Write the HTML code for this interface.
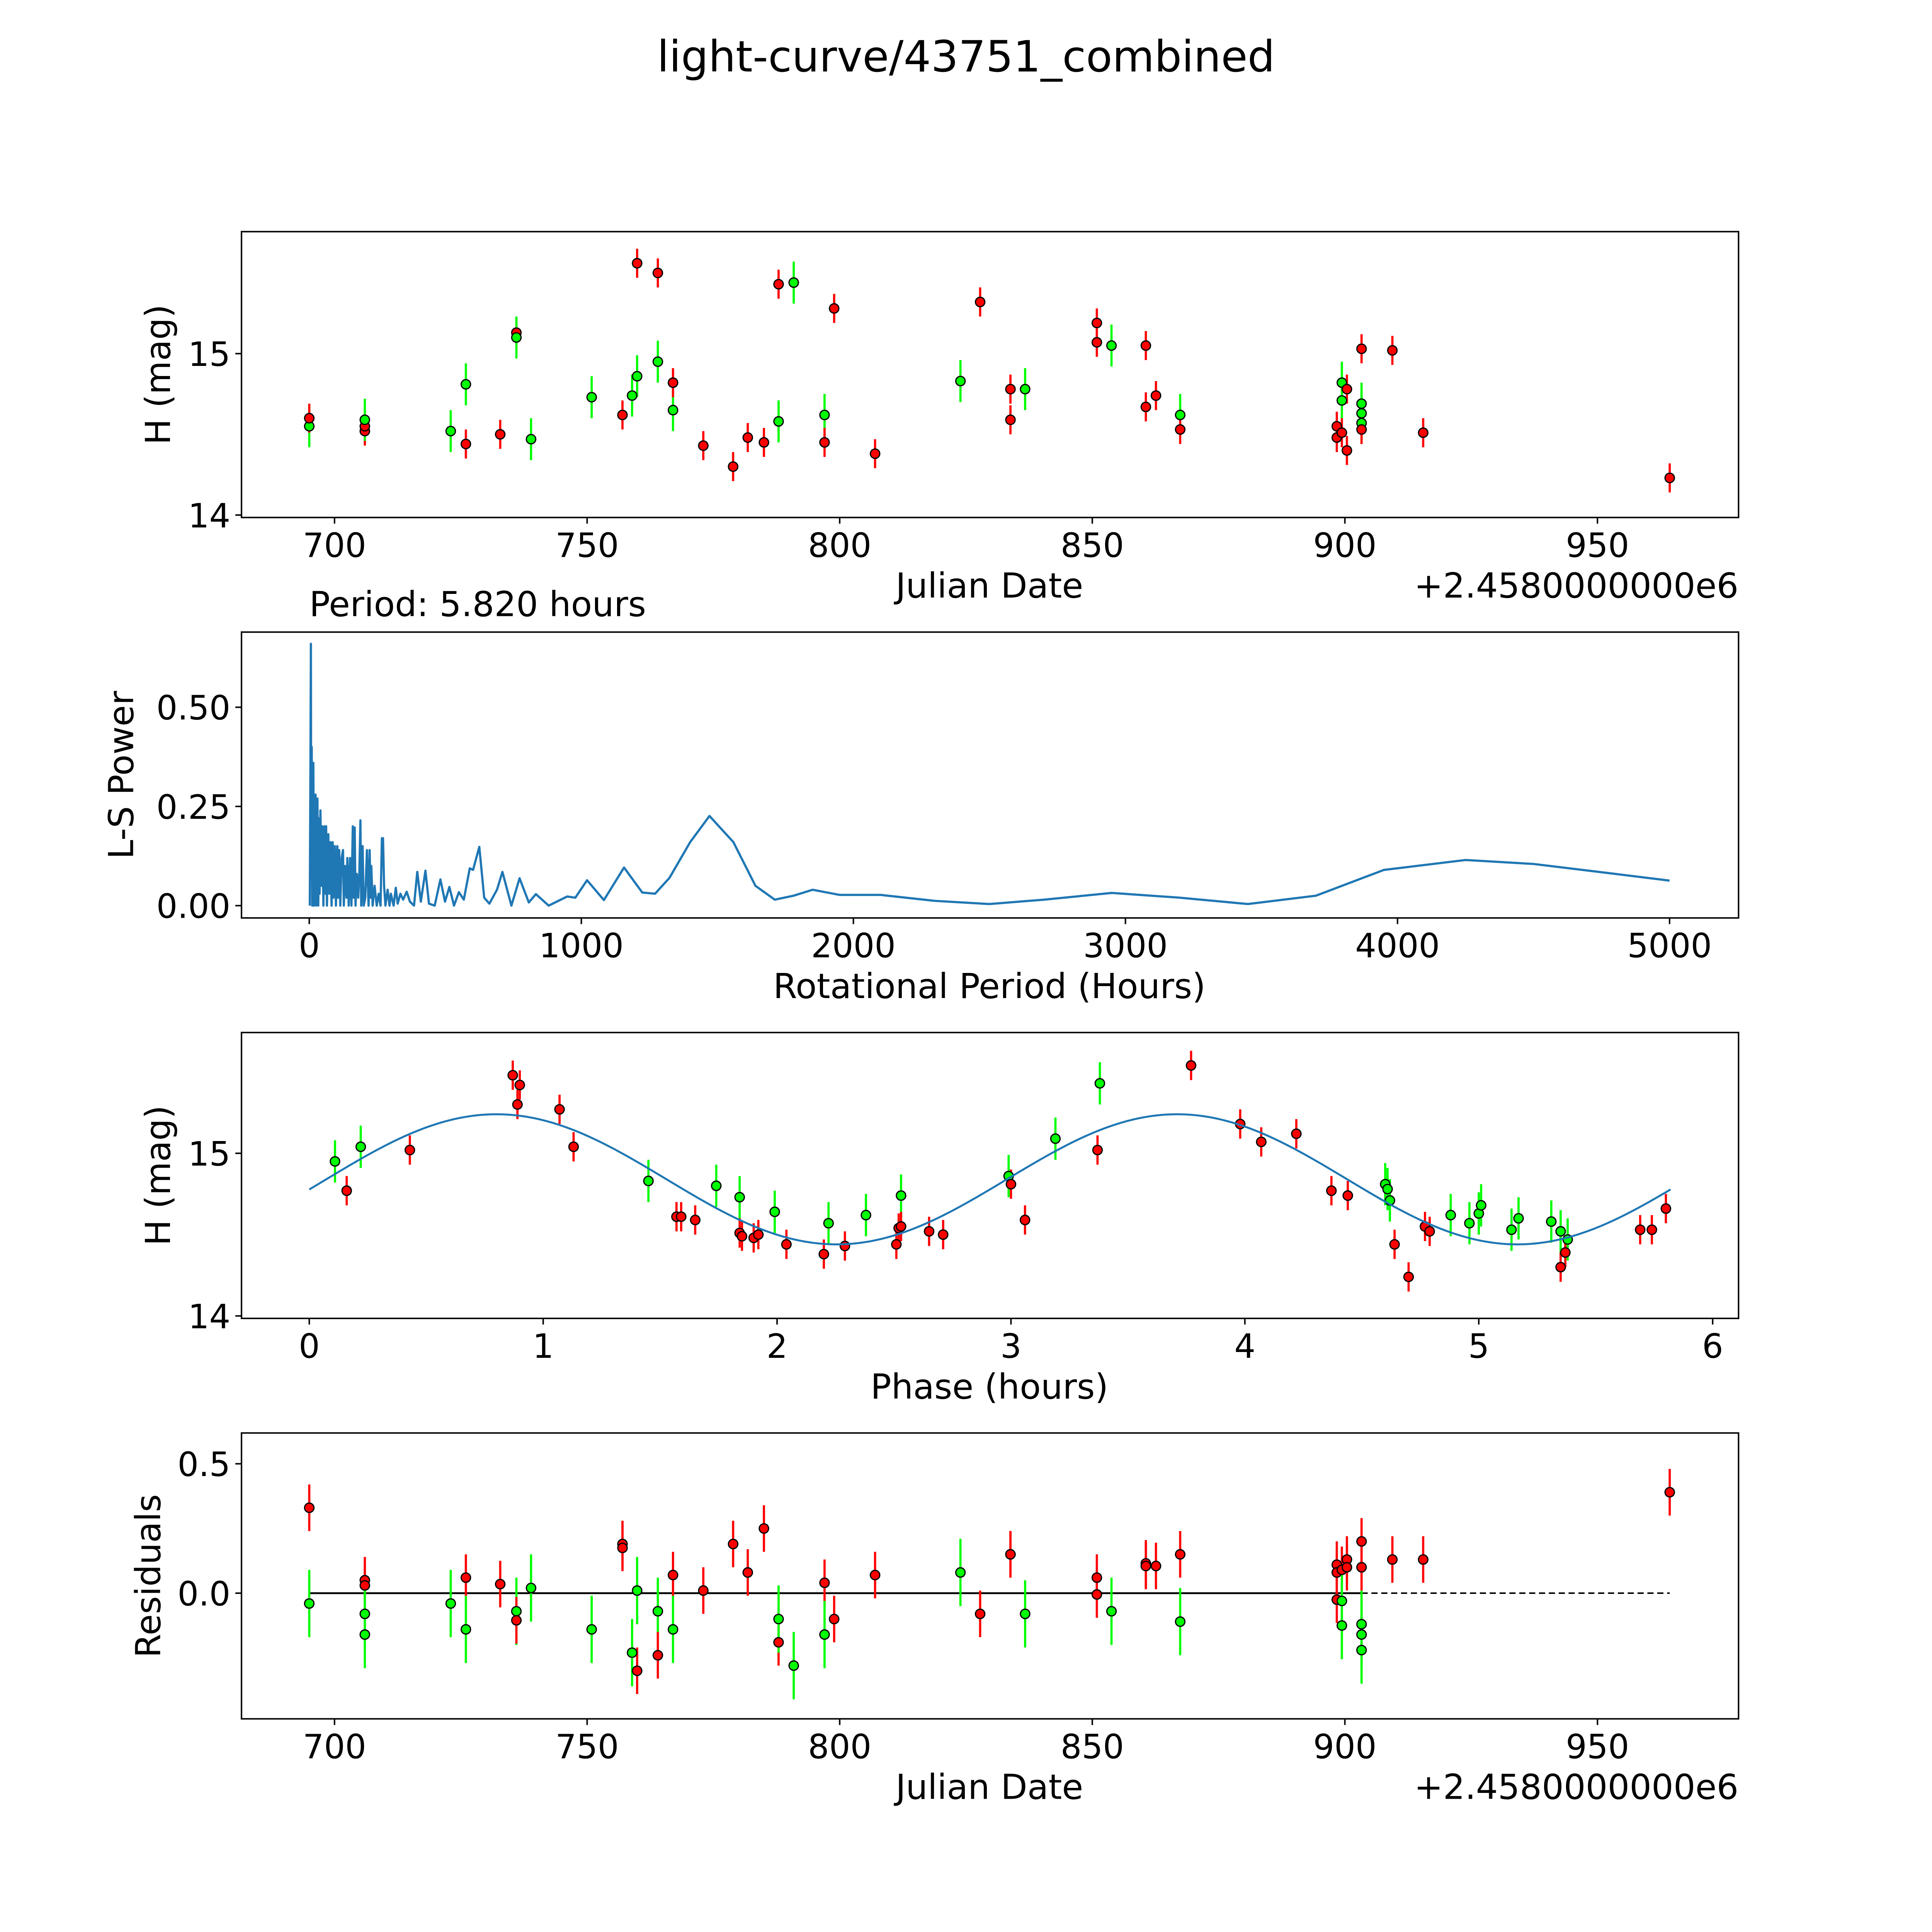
<!DOCTYPE html>
<html><head><meta charset="utf-8"><style>
html,body{margin:0;padding:0;background:#fff;overflow:hidden;width:100%;height:100%}
svg{display:block;width:100vw;height:100vh}
text{font-family:"DejaVu Sans","Liberation Sans",sans-serif;fill:#000}
</style></head><body>
<svg id="fig" xmlns="http://www.w3.org/2000/svg" viewBox="0 0 1568 1568" preserveAspectRatio="none">
<rect width="1568" height="1568" fill="#fff"/>
<text x="784" y="58" font-size="35" text-anchor="middle">light-curve/43751_combined</text>
</svg>
<script>
// ---- Panel 1: light curve (JD offset from 2458000, mag) ----
const lcJD=[695,695,706,706,706,723,726,726,732.8,736,736,738.9,750.9,757,758.9,759.9,759.9,764,764,767,767,773,778.9,781.8,785,787.9,787.9,790.9,797,797,798.9,807,823.9,827.8,833.8,833.8,836.7,850.9,850.9,853.8,860.6,860.6,862.6,867.4,867.4,899.4,899.4,898.4,898.4,899.4,900.4,900.4,903.3,903.3,903.3,903.3,903.3,909.4,915.5,964.3];
const lcMag=[14.55,14.6,14.52,14.55,14.59,14.52,14.81,14.44,14.5,15.13,15.1,14.47,14.73,14.62,14.74,14.86,15.56,14.95,15.5,14.65,14.82,14.43,14.3,14.48,14.45,15.43,14.58,15.44,14.62,14.45,15.28,14.38,14.83,15.32,14.78,14.59,14.78,15.19,15.07,15.05,15.05,14.67,14.74,14.62,14.53,14.82,14.71,14.55,14.48,14.51,14.78,14.4,14.69,14.63,14.57,14.53,15.03,15.02,14.51,14.23];
const lcColor=['g','r','r','r','g','g','g','r','r','r','g','g','g','r','g','g','r','g','r','g','r','r','r','r','r','r','g','g','g','r','r','r','g','r','r','r','g','r','r','g','r','r','r','g','r','g','g','r','r','r','r','r','g','g','g','r','r','r','r','r'];
// ---- Residuals ----
const resJD=[695,695,706,706,706,706,723,726,726,732.8,736,736,738.9,750.9,757,757,758.9,759.9,759.9,764,764,767,767,773,778.9,781.8,785,787.9,787.9,790.9,797,797,798.9,807,823.9,827.8,833.8,833.8,836.7,850.9,850.9,853.8,860.6,860.6,862.6,867.4,867.4,898.4,898.4,898.4,899.4,899.4,899.4,900.4,900.4,903.3,903.3,903.3,903.3,903.3,909.4,915.5,964.3];
const resVal=[0.33,-0.04,0.05,0.03,-0.08,-0.16,-0.04,0.06,-0.14,0.035,-0.07,-0.105,0.02,-0.14,0.19,0.175,-0.23,0.01,-0.3,-0.07,-0.24,0.07,-0.14,0.01,0.19,0.08,0.25,-0.19,-0.1,-0.28,0.04,-0.16,-0.1,0.07,0.08,-0.08,0.15,0.15,-0.08,0.06,-0.005,-0.07,0.115,0.105,0.105,0.15,-0.11,0.11,0.08,-0.025,0.09,-0.03,-0.125,0.13,0.1,0.2,0.1,-0.12,-0.16,-0.22,0.13,0.13,0.39];
const resColor=['r','g','r','r','g','g','g','r','g','r','g','r','g','g','r','r','g','g','r','g','r','r','g','r','r','r','r','r','g','g','r','g','r','r','g','r','r','r','g','r','r','g','r','r','r','r','g','r','r','r','r','g','g','r','r','r','r','g','g','g','r','r','r'];
// ---- Phase folded ----
const phT=[0.11,0.16,0.22,0.43,0.87,0.9,0.89,1.07,1.13,1.45,1.57,1.59,1.65,1.74,1.84,1.84,1.85,1.9,1.92,1.99,2.04,2.2,2.22,2.29,2.38,2.51,2.52,2.53,2.53,2.65,2.71,2.99,3.0,3.06,3.19,3.37,3.38,3.77,3.98,4.07,4.22,4.37,4.44,4.6,4.61,4.64,4.62,4.7,4.77,4.79,4.88,4.96,5.0,5.01,5.14,5.17,5.31,5.35,5.35,5.37,5.38,5.69,5.74,5.8];
const phMag=[14.95,14.77,15.04,15.02,15.48,15.42,15.3,15.27,15.04,14.83,14.61,14.61,14.59,14.8,14.73,14.51,14.49,14.48,14.5,14.64,14.44,14.38,14.57,14.43,14.62,14.44,14.54,14.74,14.55,14.52,14.5,14.86,14.81,14.59,15.09,15.02,15.43,15.54,15.18,15.07,15.12,14.77,14.74,14.81,14.78,14.44,14.71,14.24,14.55,14.52,14.62,14.57,14.63,14.68,14.53,14.6,14.58,14.52,14.3,14.39,14.47,14.53,14.53,14.66];
const phColor=['g','r','g','r','r','r','r','r','r','g','r','r','r','g','g','r','r','r','r','g','r','r','g','r','g','r','r','g','r','r','r','g','r','r','g','r','g','r','r','r','r','r','r','g','g','r','g','r','r','r','g','g','g','g','g','g','g','g','r','r','g','r','r','r'];
const fitMean=14.84, fitAmp=0.40, fitPeak=0.8, fitPer=2.91, foldPeriod=5.82;
// ---- Periodogram ----
const lsPeriod=[2,4,6,7,9,11,13,15,17,20,21,23,25,28,30,33,36,38,41,45,47,52,55,59,62,65,70,74,78,82,86,89,94,98,103,106,110,114,119,124,127,132,137,140,145,150,155,160,163,167,170,175,180,184,188,191,196,200,206,212,218,222,225,228,233,240,248,255,262,267,271,275,280,288,295,300,310,318,325,335,345,358,370,385,397,410,427,440,461,482,499,515,532,550,568,590,602,625,643,662,690,710,743,773,807,833,880,948,978,1021,1083,1157,1224,1271,1324,1400,1471,1559,1640,1711,1780,1850,1950,2100,2300,2500,2700,2950,3200,3450,3700,3950,4250,4500,4800,5000];
const lsPower=[0,0.3,0.66,0.1,0.4,0,0.2,0.36,0,0.27,0.05,0.28,0,0.2,0.27,0,0.22,0.03,0.24,0.05,0.2,0,0.2,0.03,0.2,0,0.18,0.03,0.16,0,0.16,0.02,0.15,0,0.15,0.02,0.14,0,0.12,0.14,0,0.1,0.02,0.12,0,0.12,0,0.2,0.02,0.197,0,0.08,0.02,0.08,0.215,0,0.15,0,0.02,0.14,0,0.14,0.02,0.1,0,0.05,0,0.03,0,0.17,0.17,0.05,0,0.04,0,0.03,0,0.045,0.005,0.03,0.015,0.035,0.01,0,0.085,0.01,0.088,0.005,0,0.066,0.01,0.047,0,0.034,0.015,0.094,0.09,0.148,0.02,0.005,0.04,0.085,0,0.069,0.008,0.029,0,0.023,0.02,0.064,0.014,0.096,0.033,0.03,0.07,0.16,0.226,0.16,0.05,0.015,0.025,0.04,0.027,0.027,0.012,0.004,0.015,0.032,0.02,0.004,0.025,0.09,0.115,0.105,0.08,0.063];
// ---- axis ticks ----
const jdTicks=[700,750,800,850,900,950];
const magTicks=[14,15];
const lsXTicks=[0,1000,2000,3000,4000,5000];
const lsYTicks=[0,0.25,0.5];
const lsYLabels=['0.00','0.25','0.50'];
const phTicks=[0,1,2,3,4,5,6];
const resTicks=[0,0.5];
const resLabels=['0.0','0.5'];

const NS='http://www.w3.org/2000/svg';
const svg=document.getElementById('fig');
function mk(tag,attrs,parent){const e=document.createElementNS(NS,tag);for(const k in attrs)e.setAttribute(k,attrs[k]);(parent||svg).appendChild(e);return e;}
function lin(d0,d1,r0,r1){return v=>r0+(v-d0)*(r1-r0)/(d1-d0);}
const L=196,R=1411,TOPS=[188,513,838,1163],H=232;
const COL={r:'#ff0000',g:'#00ff00'};
const ERR={r:0.09,g:0.13};

function axesFrame(i,name){
  const g=mk('g',{});
  
  
  return g;
}
function drawFrame(g,top){
  const r=mk('rect',{x:L,y:top,width:R-L,height:H,fill:'none',stroke:'#000','stroke-width':1.2},g);
  
  
}
function xTicks(g,top,sx,ticks,labels){
  ticks.forEach((t,i)=>{const x=sx(t);
    mk('line',{x1:x,x2:x,y1:top+H,y2:top+H+5,stroke:'#000','stroke-width':1.2},g);
    const tx=mk('text',{x:x,y:top+H+32,'font-size':27,'text-anchor':'middle'},g);
    tx.textContent=labels?labels[i]:String(t);
    
    
  });
}
function yTicks(g,sy,ticks,labels){
  ticks.forEach((t,i)=>{const y=sy(t);
    mk('line',{x1:L-5,x2:L,y1:y,y2:y,stroke:'#000','stroke-width':1.2},g);
    const tx=mk('text',{x:L-9,y:y+10,'font-size':27,'text-anchor':'end'},g);
    tx.textContent=labels?labels[i]:String(t);
    
    
  });
}
function label(g,txt,x,y,rot,name,anchor){
  const t=mk('text',{x:x,y:y,'font-size':28,'text-anchor':anchor||'middle'},g);
  if(rot)t.setAttribute('transform','rotate(-90 '+x+' '+y+')');
  t.textContent=txt;
  
  
}
function errPoints(g,xs,ys,cs,sx,sy,name){
  xs.forEach((xv,i)=>{const c=cs[i],x=sx(xv),e=ERR[c];
    mk('line',{x1:x,x2:x,y1:sy(ys[i]-e),y2:sy(ys[i]+e),stroke:COL[c],'stroke-width':1.8},g);
  });
  xs.forEach((xv,i)=>{const c=cs[i];
    const p=mk('circle',{cx:sx(xv),cy:sy(ys[i]),r:3.8,fill:COL[c],stroke:'#000','stroke-width':1},g);
    
    
  });
}

// Panel 1
{const top=TOPS[0];const g=axesFrame(0,'light-curve-axes');
 const sx=lin(700,950,271.5,1296.5), sy=lin(14,15,418,287);
 errPoints(g,lcJD,lcMag,lcColor,sx,sy,'magnitude-point');
 drawFrame(g,top);xTicks(g,top,sx,jdTicks);yTicks(g,sy,magTicks);
 label(g,'Julian Date',803,485,false,'x-axis-title');
 label(g,'+2.4580000000e6',1411,485,false,'x-offset-text','end');
 label(g,'H (mag)',138,top+H/2,true,'y-axis-title');}
// Panel 2
{const top=TOPS[1];const g=axesFrame(1,'periodogram-axes');
 const sx=lin(0,5000,251,1355), sy=lin(0,0.5,735,574);
 let d='';lsPeriod.forEach((p,i)=>{d+=(i?'L':'M')+sx(p).toFixed(2)+' '+sy(lsPower[i]).toFixed(2);});
 const pl=mk('path',{d:d,fill:'none',stroke:'#1f77b4','stroke-width':1.8,'stroke-linejoin':'round'},g);
 
 
 drawFrame(g,top);xTicks(g,top,sx,lsXTicks);yTicks(g,sy,lsYTicks,lsYLabels);
 label(g,'Period: 5.820 hours',251,500,false,'period-title','start');
 label(g,'Rotational Period (Hours)',803,810,false,'x-axis-title');
 label(g,'L-S Power',108,top+H/2,true,'y-axis-title');}
// Panel 3
{const top=TOPS[2];const g=axesFrame(2,'phase-axes');
 const sx=lin(0,6,251,1390), sy=lin(14,15,1068,936);
 errPoints(g,phT,phMag,phColor,sx,sy,'phase-point');
 let d='';for(let k=0;k<=300;k++){const t=foldPeriod*k/300;const m=fitMean+fitAmp*Math.cos(2*Math.PI*(t-fitPeak)/fitPer);d+=(k?'L':'M')+sx(t).toFixed(2)+' '+sy(m).toFixed(2);}
 const fl=mk('path',{d:d,fill:'none',stroke:'#1f77b4','stroke-width':1.6},g);
 
 
 drawFrame(g,top);xTicks(g,top,sx,phTicks);yTicks(g,sy,magTicks);
 label(g,'Phase (hours)',803,1135,false,'x-axis-title');
 label(g,'H (mag)',138,top+H/2,true,'y-axis-title');}
// Panel 4
{const top=TOPS[3];const g=axesFrame(3,'residuals-axes');
 const sx=lin(700,950,271.5,1296.5), sy=lin(0,0.5,1293,1188);
 const minData=695, maxData=903.3, endData=964.3;
 const z1=mk('line',{x1:sx(minData),x2:sx(maxData),y1:sy(0),y2:sy(0),stroke:'#000','stroke-width':1.5},g);
 
 
 const z2=mk('line',{x1:sx(maxData),x2:sx(endData),y1:sy(0),y2:sy(0),stroke:'#000','stroke-width':1.2,'stroke-dasharray':'5 3'},g);
 
 
 errPoints(g,resJD,resVal,resColor,sx,sy,'residual-point');
 drawFrame(g,top);xTicks(g,top,sx,jdTicks);yTicks(g,sy,resTicks,resLabels);
 label(g,'Julian Date',803,1460,false,'x-axis-title');
 label(g,'+2.4580000000e6',1411,1460,false,'x-offset-text','end');
 label(g,'Residuals',130,top+H/2,true,'y-axis-title');}
</script>
</body></html>
